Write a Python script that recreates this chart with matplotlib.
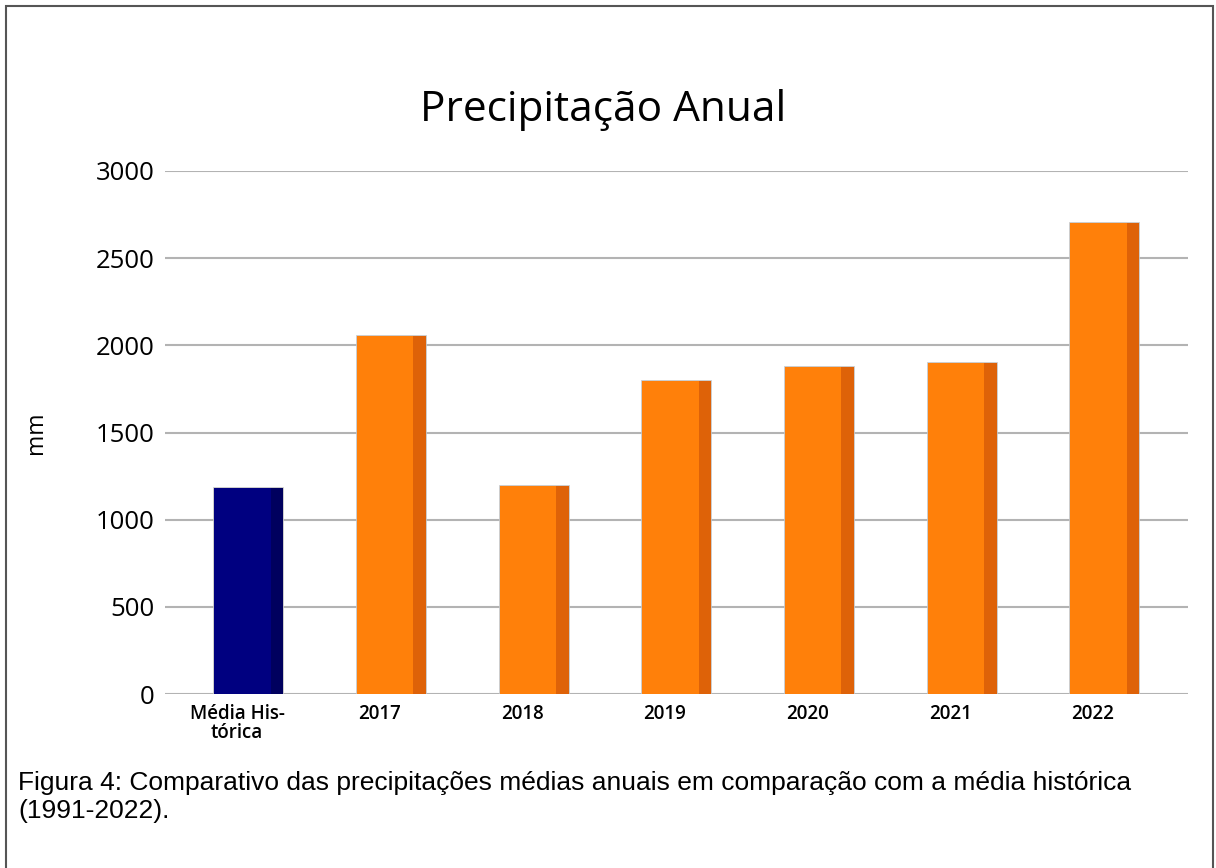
import matplotlib.pyplot as plt
from matplotlib.patches import Rectangle
import numpy as np

categories = ['Média His-\ntórica', '2017', '2018', '2019', '2020', '2021', '2022']
values = [1182, 2054, 1193, 1796, 1876, 1899, 2702]
is_hist = [True, False, False, False, False, False, False]
yticks = [0, 500, 1000, 1500, 2000, 2500, 3000]

NAVY, NAVY_SIDE = '#000080', '#00005e'
ORANGE, ORANGE_SIDE = '#ff800a', '#de6208'
GRID = '#b3b3b3'

fig = plt.figure(figsize=(12.16, 8.68), dpi=100, facecolor='white')
ax = fig.add_axes([165/1216, 1 - 694/868, 1023/1216, 523/868])

x = np.arange(len(categories))
front_w = 0.395
side_w = 0.09
front_left = x - 0.16
fronts = [NAVY if h else ORANGE for h in is_hist]
sides = [NAVY_SIDE if h else ORANGE_SIDE for h in is_hist]
# outline behind, then front face and darker side face
ax.bar(front_left, values, width=front_w + side_w, align='edge', color='none',
       edgecolor='#c4c4c4', linewidth=1.2, zorder=3)
ax.bar(front_left, values, width=front_w, align='edge', color=fronts,
       linewidth=0, zorder=4)
ax.bar(front_left + front_w, values, width=side_w, align='edge', color=sides,
       linewidth=0, zorder=4)

ax.set_xlim(-0.505, 6.666)
ax.set_ylim(0, 3000)
ax.set_yticks(yticks)
ax.set_yticklabels([str(v) for v in yticks], fontsize=18.5, fontfamily='Open Sans')
ax.set_xticks(x)
ax.set_xticklabels(categories, fontsize=13.5, fontfamily='Open Sans',
                   fontweight='semibold', linespacing=0.95)
ax.tick_params(axis='y', length=0, pad=7.5)
ax.tick_params(axis='x', length=0, pad=7)
for s in ax.spines.values():
    s.set_visible(False)
ax.grid(axis='y', color=GRID, linewidth=1.5, zorder=0)
ax.set_axisbelow(True)
ax.set_ylabel('mm', fontsize=16.5, fontfamily='Open Sans', labelpad=34)

fig.text(603/1216, 1 - 110/868, 'Precipitação Anual', fontsize=30.5,
         fontfamily='Open Sans', ha='center', va='center')

fig.text(18/1216, 1 - 797/868,
         'Figura 4: Comparativo das precipitações médias anuais em comparação com a média histórica\n(1991-2022).',
         fontsize=19, fontfamily='Liberation Sans', ha='left', va='center',
         linespacing=1.2)

fig.patches.append(Rectangle((6/1216, -0.01), (1213 - 6)/1216, 1 - 6/868 + 0.01,
                             transform=fig.transFigure, fill=False,
                             edgecolor='#555555', linewidth=1.5))

fig.savefig('out.png', dpi=100, facecolor='white')
